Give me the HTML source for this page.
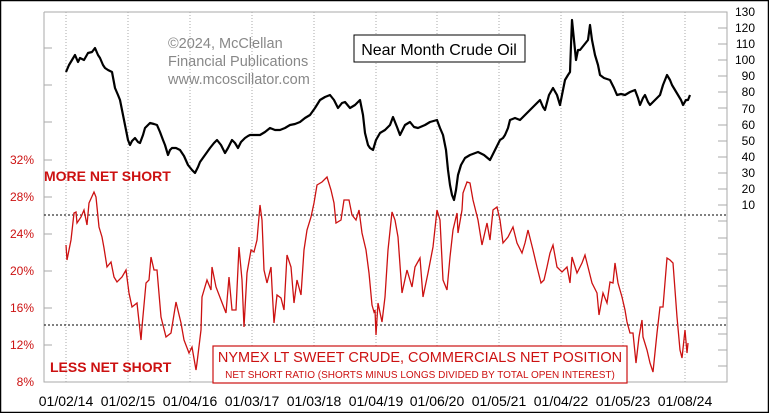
<!DOCTYPE html>
<html><head><meta charset="utf-8"><style>
html,body{margin:0;padding:0;background:#fff}
svg{display:block}
text{font-family:"Liberation Sans",sans-serif}
</style></head><body>
<svg width="769" height="413" viewBox="0 0 769 413" xmlns="http://www.w3.org/2000/svg">
<rect x="0.5" y="0.5" width="768" height="412" fill="#fff" stroke="#000" stroke-width="1.5"/>
<g stroke="#aaa" stroke-dasharray="1,2" stroke-width="1">
<line x1="66" y1="12" x2="66" y2="382"/><line x1="128" y1="12" x2="128" y2="382"/><line x1="190" y1="12" x2="190" y2="382"/><line x1="252" y1="12" x2="252" y2="382"/><line x1="314" y1="12" x2="314" y2="382"/><line x1="376" y1="12" x2="376" y2="382"/><line x1="437" y1="12" x2="437" y2="382"/><line x1="499" y1="12" x2="499" y2="382"/><line x1="561" y1="12" x2="561" y2="382"/><line x1="623" y1="12" x2="623" y2="382"/><line x1="685" y1="12" x2="685" y2="382"/>
</g>
<polyline points="44,12 44,382 727,382 727,12 44,12" fill="none" stroke="#aaa" stroke-width="1"/>
<g stroke="#aaa">
<line x1="44" y1="48" x2="52" y2="48"/><line x1="44" y1="85" x2="52" y2="85"/><line x1="44" y1="122" x2="52" y2="122"/><line x1="44" y1="160" x2="52" y2="160"/><line x1="44" y1="197" x2="52" y2="197"/><line x1="44" y1="234" x2="52" y2="234"/><line x1="44" y1="271" x2="52" y2="271"/><line x1="44" y1="308" x2="52" y2="308"/><line x1="44" y1="345" x2="52" y2="345"/>
<line x1="718" y1="28" x2="727" y2="28"/><line x1="718" y1="44" x2="727" y2="44"/><line x1="718" y1="60" x2="727" y2="60"/><line x1="718" y1="76" x2="727" y2="76"/><line x1="718" y1="92" x2="727" y2="92"/><line x1="718" y1="108" x2="727" y2="108"/><line x1="718" y1="125" x2="727" y2="125"/><line x1="718" y1="141" x2="727" y2="141"/><line x1="718" y1="157" x2="727" y2="157"/><line x1="718" y1="173" x2="727" y2="173"/><line x1="718" y1="189" x2="727" y2="189"/><line x1="718" y1="205" x2="727" y2="205"/><line x1="718" y1="221" x2="727" y2="221"/><line x1="718" y1="238" x2="727" y2="238"/><line x1="718" y1="254" x2="727" y2="254"/><line x1="718" y1="270" x2="727" y2="270"/><line x1="718" y1="286" x2="727" y2="286"/><line x1="718" y1="302" x2="727" y2="302"/><line x1="718" y1="318" x2="727" y2="318"/><line x1="718" y1="334" x2="727" y2="334"/><line x1="718" y1="350" x2="727" y2="350"/><line x1="718" y1="366" x2="727" y2="366"/>
</g>
<g stroke="#000" stroke-dasharray="2,2" stroke-width="1">
<line x1="44" y1="215" x2="727" y2="215"/><line x1="44" y1="325" x2="727" y2="325"/>
</g>
<g font-size="12" fill="#cc1111" text-anchor="end">
<text x="34" y="164">32%</text><text x="34" y="201">28%</text><text x="34" y="238">24%</text><text x="34" y="275">20%</text><text x="34" y="312">16%</text><text x="34" y="349">12%</text><text x="34" y="386">8%</text>
</g>
<g font-size="12" fill="#000" text-anchor="end">
<text x="755" y="16">130</text><text x="755" y="32">120</text><text x="755" y="48">110</text><text x="755" y="64">100</text><text x="755" y="80">90</text><text x="755" y="96">80</text><text x="755" y="113">70</text><text x="755" y="129">60</text><text x="755" y="145">50</text><text x="755" y="161">40</text><text x="755" y="177">30</text><text x="755" y="193">20</text><text x="755" y="209">10</text>
</g>
<g font-size="14" fill="#000" text-anchor="middle">
<text x="66" y="406">01/02/14</text><text x="128" y="406">01/02/15</text><text x="190" y="406">01/04/16</text><text x="252" y="406">01/03/17</text><text x="314" y="406">01/03/18</text><text x="376" y="406">01/04/19</text><text x="437" y="406">01/06/20</text><text x="499" y="406">01/05/21</text><text x="561" y="406">01/04/22</text><text x="623" y="406">01/05/23</text><text x="685" y="406">01/08/24</text>
</g>
<polyline fill="none" stroke="#cc1111" stroke-width="1.3" points="66,245 67,260 71,240 74,213 76,212 77,223 81,217 84,210 87,225 89,203 94,192 96,197 99,227 102,237 104,248 107,267 111,262 114,277 117,282 122,277 126,270 129,293 132,307 137,303 141,340 142,327 146,283 149,280 151,257 154,270 157,270 161,317 166,337 171,333 176,302 181,323 184,340 189,353 192,347 196,370 197,363 201,330 202,297 207,280 211,290 212,267 216,287 221,300 226,313 229,277 232,310 236,310 239,247 242,280 244,327 247,273 251,250 254,252 257,240 260,205 262,220 264,270 267,283 271,267 272,287 274,323 277,295 281,298 284,310 287,255 291,267 294,303 297,280 301,295 304,250 307,230 311,217 314,203 317,185 322,182 327,177 331,190 334,203 336,223 341,220 344,200 349,200 352,215 356,220 359,210 362,233 366,250 369,273 372,305 374,312 375,310 376,335 378,303 382,322 385,297 388,250 392,212 395,220 398,237 402,293 407,270 412,287 415,267 420,258 423,297 428,273 433,247 437,210 440,220 443,280 447,290 450,257 453,230 457,213 458,233 462,210 463,193 467,182 470,183 473,200 478,220 482,245 487,223 490,240 493,210 497,207 500,220 503,243 508,237 513,227 517,243 522,253 525,243 528,230 533,250 537,267 541,283 544,280 547,267 550,253 553,245 557,267 562,272 567,267 570,283 572,257 577,273 582,263 585,255 588,267 592,283 597,293 599,315 603,293 607,303 610,282 613,283 615,263 618,283 622,297 625,310 627,322 630,333 633,333 636,363 639,337 642,320 643,337 647,350 650,363 653,372 657,333 660,307 663,307 667,258 670,260 673,263 677,317 680,350 682,358 685,330 687,353 688,343"/>
<polyline fill="none" stroke="#000" stroke-width="2.2" stroke-linejoin="round" points="66,72 69,65 72,60 75,55 78,62 80,58 84,60 88,53 92,52 95,48 98,55 100,58 103,65 105,68 108,70 112,72 115,88 118,95 120,100 123,115 125,125 127,135 128,140 130,145 132,141 135,138 138,142 140,143 143,135 145,128 148,125 150,123 154,124 157,125 160,132 163,140 165,145 168,155 170,150 172,148 176,148 180,150 184,156 188,165 192,170 195,173 198,167 200,162 205,155 210,148 214,143 217,140 221,145 225,153 228,148 232,140 235,143 238,148 241,142 245,138 248,136 250,135 255,135 260,135 265,132 270,128 275,130 280,130 285,128 290,125 295,124 300,122 305,118 310,115 315,108 320,100 325,97 330,95 334,100 338,108 342,103 345,102 350,108 355,105 360,100 363,115 365,133 368,145 370,148 373,150 376,140 380,133 385,130 390,125 393,117 397,127 400,135 405,125 410,122 414,127 418,128 425,125 430,122 437,120 440,128 443,135 446,150 448,170 450,185 452,195 454,200 456,190 458,175 461,165 465,158 470,155 478,152 484,155 490,160 495,150 500,140 503,138 505,135 508,128 510,120 515,118 520,120 525,115 530,110 535,105 540,100 543,107 545,110 549,95 553,88 557,95 560,105 563,90 565,80 568,75 570,72 571,45 572,20 574,40 576,60 578,50 580,50 584,45 588,40 590,25 592,40 595,55 598,65 600,75 604,78 610,80 614,88 617,95 621,94 625,95 630,92 635,90 638,98 640,105 643,98 645,95 648,102 650,105 655,100 660,95 663,85 667,75 670,80 672,85 675,90 678,95 681,100 683,105 686,100 688,100 690,95"/>
<g font-size="14.5" fill="#888">
<text x="168" y="48">©2024, McClellan</text><text x="168" y="66">Financial Publications</text><text x="168" y="84">www.mcoscillator.com</text>
</g>
<rect x="354" y="35" width="171" height="27" fill="#fff" stroke="#000" stroke-width="1"/>
<text x="439" y="55" font-size="16" text-anchor="middle" fill="#000">Near Month Crude Oil</text>
<text x="44" y="181" font-size="14" font-weight="bold" fill="#cc1111">MORE NET SHORT</text>
<text x="50" y="372" font-size="14" font-weight="bold" fill="#cc1111">LESS NET SHORT</text>
<rect x="213" y="346" width="414" height="37" fill="#fff" stroke="#cc1111" stroke-width="1.2"/>
<text x="420" y="362" font-size="14.5" text-anchor="middle" fill="#cc1111">NYMEX LT SWEET CRUDE, COMMERCIALS NET POSITION</text>
<text x="420" y="378" font-size="10" text-anchor="middle" fill="#cc1111">NET SHORT RATIO (SHORTS MINUS LONGS DIVIDED BY TOTAL OPEN INTEREST)</text>
</svg>
</body></html>
